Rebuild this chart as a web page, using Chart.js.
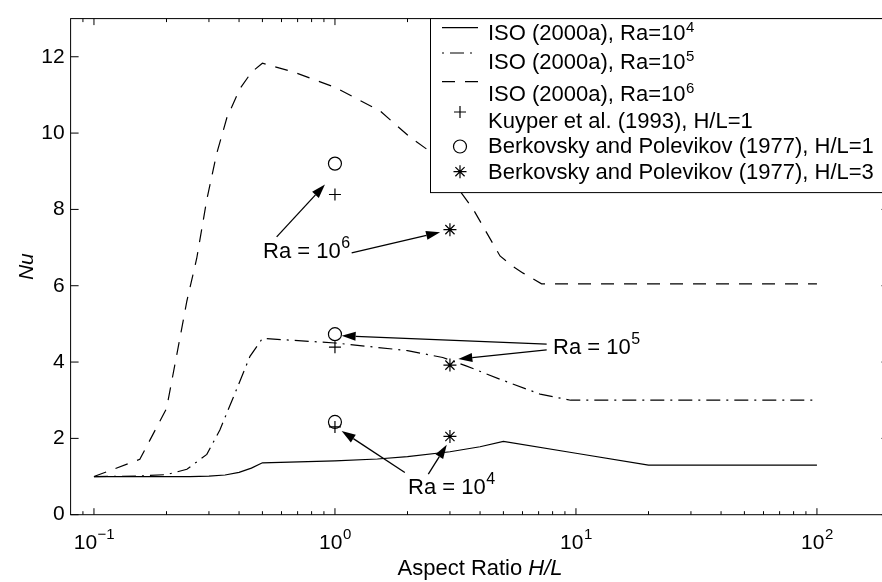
<!DOCTYPE html>
<html>
<head>
<meta charset="utf-8">
<script src="https://cdn.jsdelivr.net/npm/chart.js@4.4.0/dist/chart.umd.min.js"></script>
<style>
  html, body { margin: 0; padding: 0; background: #fff; overflow: hidden; }
  canvas { display: block; }
</style>
</head>
<body>
<canvas id="nuChart" width="900" height="582"></canvas>
<script>
// ISO (2000a) correlation curves, Nu against aspect ratio H/L
const ratioRa4 = [0.1, 0.2, 0.25, 0.3, 0.35, 0.4, 0.45, 0.5, 1, 1.5, 2, 3, 4, 5, 10, 20, 100];
const nuRa4 = [1.0, 1.0, 1.0, 1.01, 1.04, 1.11, 1.22, 1.36, 1.41, 1.46, 1.52, 1.65, 1.78, 1.92, 1.61, 1.3, 1.3];

const ratioRa5 = [0.1, 0.15, 0.2, 0.243, 0.294, 0.333, 0.391, 0.444, 0.5, 1, 2, 2.8, 3.5, 4.84, 7.1, 9.5, 100];
const nuRa5 = [1.0, 1.01, 1.05, 1.19, 1.58, 2.22, 3.29, 4.15, 4.62, 4.5, 4.3, 4.12, 3.9, 3.55, 3.16, 3.0, 3.0];

const ratioRa6 = [0.1, 0.155, 0.2, 0.22, 0.243, 0.267, 0.294, 0.323, 0.356, 0.404, 0.451, 0.5, 0.673, 1, 1.54, 2.05, 2.44, 3.2, 3.75, 4.84, 5.5, 6.04, 7.2, 100];
const nuRa6 = [1.0, 1.45, 2.78, 4.15, 5.6, 6.72, 8.26, 9.46, 10.4, 11.17, 11.6, 11.83, 11.6, 11.2, 10.58, 9.89, 9.55, 8.6, 8.0, 6.78, 6.5, 6.33, 6.05, 6.05];

// experimental points
const kuyperRatio = [1, 1, 1];
const kuyperNu = [8.39, 4.39, 2.3];
const berk1Ratio = [1, 1, 1];
const berk1Nu = [9.2, 4.73, 2.43];
const berk3Ratio = [3, 3, 3];
const berk3Nu = [7.47, 3.92, 2.05];

// axes
const decadeTicks = [0.1, 1, 10, 100];
const decadeExps = ['\u22121', '0', '1', '2'];
const minorTicks = [0.09, 0.2, 0.3, 0.4, 0.5, 0.6, 0.7, 0.8, 0.9, 2, 3, 4, 5, 6, 7, 8, 9, 20, 30, 40, 50, 60, 70, 80, 90];
const nuTicks = [0, 2, 4, 6, 8, 10, 12];

// legend rows
const legendLabels = ['ISO (2000a), Ra=10', 'ISO (2000a), Ra=10', 'ISO (2000a), Ra=10',
  'Kuyper et al. (1993), H/L=1', 'Berkovsky and Polevikov (1977), H/L=1', 'Berkovsky and Polevikov (1977), H/L=3'];
const legendSups = ['4', '5', '6', '', '', ''];

// annotations (data coordinates: text left/baseline, arrows from -> to)
const noteSups = ['6', '5', '4'];
const noteX = [0.503, 8.03, 2.01];
const noteY = [6.72, 4.22, 0.55];
const arrowFrom = [[0.573, 7.28], [1.173, 6.86], [7.56, 4.47], [7.56, 4.32], [1.95, 1.105], [2.44, 1.064]];
const arrowTo = [[0.909, 8.65], [2.73, 7.40], [1.066, 4.69], [3.25, 4.08], [1.066, 2.195], [2.91, 1.835]];

const FONT = '"Liberation Sans", Arial, Helvetica, sans-serif';

function pts(xs, ys) {
    return xs.map((x, i) => ({ x: x, y: ys[i] }));
}

function textSup(ctx, base, sup, x, y, size, supSize, raise, center) {
    ctx.font = size + 'px ' + FONT;
    const w1 = ctx.measureText(base).width;
    ctx.font = supSize + 'px ' + FONT;
    const w2 = sup ? ctx.measureText(sup).width : 0;
    const x0 = center ? x - (w1 + w2) / 2 : x;
    ctx.font = size + 'px ' + FONT;
    ctx.fillText(base, x0, y);
    if (sup) {
        ctx.font = supSize + 'px ' + FONT;
        ctx.fillText(sup, x0 + w1 + 0.5, y - raise);
    }
}

function drawArrow(ctx, x1, y1, x2, y2) {
    const ang = Math.atan2(y2 - y1, x2 - x1);
    const len = 14, half = 4.5;
    const bx = x2 - len * Math.cos(ang), by = y2 - len * Math.sin(ang);
    ctx.beginPath();
    ctx.moveTo(x1, y1);
    ctx.lineTo(bx, by);
    ctx.stroke();
    ctx.beginPath();
    ctx.moveTo(x2, y2);
    ctx.lineTo(bx + half * Math.sin(ang), by - half * Math.cos(ang));
    ctx.lineTo(bx - half * Math.sin(ang), by + half * Math.cos(ang));
    ctx.closePath();
    ctx.fill();
}

const matlabAxes = {
    id: 'matlabAxes',
    afterDatasetsDraw(chart) {
        const ctx = chart.ctx;
        const a = chart.chartArea;
        const xs = chart.scales.x, ys = chart.scales.y;
        ctx.save();
        ctx.strokeStyle = '#000';
        ctx.fillStyle = '#000';
        ctx.lineWidth = 1;
        ctx.setLineDash([]);

        // box
        ctx.strokeRect(a.left, a.top, a.right - a.left, a.bottom - a.top);

        // inward ticks
        ctx.beginPath();
        decadeTicks.forEach(v => {
            const px = xs.getPixelForValue(v);
            ctx.moveTo(px, a.bottom); ctx.lineTo(px, a.bottom - 6.5);
            ctx.moveTo(px, a.top); ctx.lineTo(px, a.top + 6.5);
        });
        minorTicks.forEach(v => {
            const px = xs.getPixelForValue(v);
            ctx.moveTo(px, a.bottom); ctx.lineTo(px, a.bottom - 3.5);
            ctx.moveTo(px, a.top); ctx.lineTo(px, a.top + 3.5);
        });
        nuTicks.forEach(v => {
            const py = ys.getPixelForValue(v);
            ctx.moveTo(a.left, py); ctx.lineTo(a.left + 8, py);
            ctx.moveTo(a.right, py); ctx.lineTo(a.right - 8, py);
        });
        ctx.stroke();

        // x tick labels
        ctx.textBaseline = 'alphabetic';
        ctx.textAlign = 'left';
        decadeTicks.forEach((v, i) => {
            textSup(ctx, '10', decadeExps[i], xs.getPixelForValue(v), a.bottom + 34, 21, 15, 10, true);
        });

        // x title
        ctx.font = '22px ' + FONT;
        const t1 = 'Aspect Ratio ';
        const w1 = ctx.measureText(t1).width;
        ctx.font = 'italic 22px ' + FONT;
        const w2 = ctx.measureText('H/L').width;
        const cx = (a.left + a.right) / 2 - (w1 + w2) / 2;
        ctx.font = '22px ' + FONT;
        ctx.fillText(t1, cx, 575);
        ctx.font = 'italic 22px ' + FONT;
        ctx.fillText('H/L', cx + w1, 575);

        // legend
        const lx = 430.5, ly = a.top;
        ctx.fillStyle = '#fff';
        ctx.fillRect(lx, ly, a.right - lx, 174);
        ctx.fillStyle = '#000';
        ctx.strokeRect(lx, ly, a.right - lx, 174);
        const sampleY = [27.7, 53, 81.7, 112, 146.5, 171.7];
        const baseY = [39.5, 69, 100.5, 127.5, 153, 179];
        const dashes = [[], [14, 6, 2, 6], [13, 10]];
        ctx.lineWidth = 1.2;
        for (let i = 0; i < 3; i++) {
            ctx.setLineDash(dashes[i]);
            ctx.lineDashOffset = i === 1 ? 20 : 0;
            ctx.beginPath();
            ctx.moveTo(442, sampleY[i]);
            ctx.lineTo(478, sampleY[i]);
            ctx.stroke();
        }
        ctx.setLineDash([]);
        ctx.lineDashOffset = 0;
        // marker samples
        ctx.beginPath();
        ctx.moveTo(454, sampleY[3]); ctx.lineTo(466, sampleY[3]);
        ctx.moveTo(460, sampleY[3] - 6); ctx.lineTo(460, sampleY[3] + 6);
        ctx.stroke();
        ctx.beginPath();
        ctx.arc(460, sampleY[4], 6.5, 0, Math.PI * 2);
        ctx.stroke();
        ctx.beginPath();
        for (let k = 0; k < 4; k++) {
            const an = k * Math.PI / 4;
            ctx.moveTo(460 - 6.5 * Math.cos(an), sampleY[5] - 6.5 * Math.sin(an));
            ctx.lineTo(460 + 6.5 * Math.cos(an), sampleY[5] + 6.5 * Math.sin(an));
        }
        ctx.stroke();
        legendLabels.forEach((lab, i) => {
            textSup(ctx, lab, legendSups[i], 488, baseY[i], 22, 15, 8, false);
        });

        // annotations
        ctx.lineWidth = 1.3;
        noteX.forEach((v, i) => {
            textSup(ctx, 'Ra = 10', noteSups[i], xs.getPixelForValue(v), ys.getPixelForValue(noteY[i]), 22, 16, 10, false);
        });
        arrowFrom.forEach((f, i) => {
            const t = arrowTo[i];
            drawArrow(ctx, xs.getPixelForValue(f[0]), ys.getPixelForValue(f[1]),
                xs.getPixelForValue(t[0]), ys.getPixelForValue(t[1]));
        });
        ctx.restore();
    }
};

const lineBase = {
    showLine: true,
    borderColor: '#000',
    borderWidth: 1.2,
    pointRadius: 0,
    tension: 0,
    fill: false
};
const markBase = {
    showLine: false,
    borderColor: '#000',
    backgroundColor: 'rgba(0,0,0,0)',
    borderWidth: 1.2
};

new Chart(document.getElementById('nuChart'), {
    type: 'scatter',
    data: {
        datasets: [
            Object.assign({ label: 'ISO (2000a), Ra=10^4', data: pts(ratioRa4, nuRa4) }, lineBase),
            Object.assign({ label: 'ISO (2000a), Ra=10^5', data: pts(ratioRa5, nuRa5), borderDash: [14, 6, 2, 6] }, lineBase),
            Object.assign({ label: 'ISO (2000a), Ra=10^6', data: pts(ratioRa6, nuRa6), borderDash: [13, 10] }, lineBase),
            Object.assign({ label: 'Kuyper et al. (1993), H/L=1', data: pts(kuyperRatio, kuyperNu), pointStyle: 'cross', pointRadius: 6 }, markBase),
            Object.assign({ label: 'Berkovsky and Polevikov (1977), H/L=1', data: pts(berk1Ratio, berk1Nu), pointStyle: 'circle', pointRadius: 6.5 }, markBase),
            Object.assign({ label: 'Berkovsky and Polevikov (1977), H/L=3', data: pts(berk3Ratio, berk3Nu), pointStyle: 'star', pointRadius: 6.5 }, markBase)
        ]
    },
    options: {
        responsive: false,
        animation: false,
        layout: { padding: { top: 9, right: 10.5, left: 0, bottom: 0 } },
        plugins: {
            legend: { display: false },
            tooltip: { enabled: false }
        },
        scales: {
            x: {
                type: 'logarithmic',
                min: 0.08,
                max: 200,
                ticks: { display: false },
                grid: { display: false, drawTicks: false },
                border: { display: false },
                afterFit: s => { s.height = 67.3; }
            },
            y: {
                type: 'linear',
                min: 0,
                max: 13,
                afterBuildTicks: s => { s.ticks = nuTicks.map(v => ({ value: v })); },
                ticks: {
                    color: '#000',
                    padding: 6,
                    font: { family: FONT, size: 21 }
                },
                grid: { display: false, drawTicks: false },
                border: { display: false },
                title: {
                    display: true,
                    text: 'Nu',
                    color: '#000',
                    padding: { top: 15 },
                    font: { family: FONT, size: 21, style: 'italic' }
                },
                afterFit: s => { s.width = 70.6; }
            }
        }
    },
    plugins: [matlabAxes]
});
</script>
</body>
</html>
